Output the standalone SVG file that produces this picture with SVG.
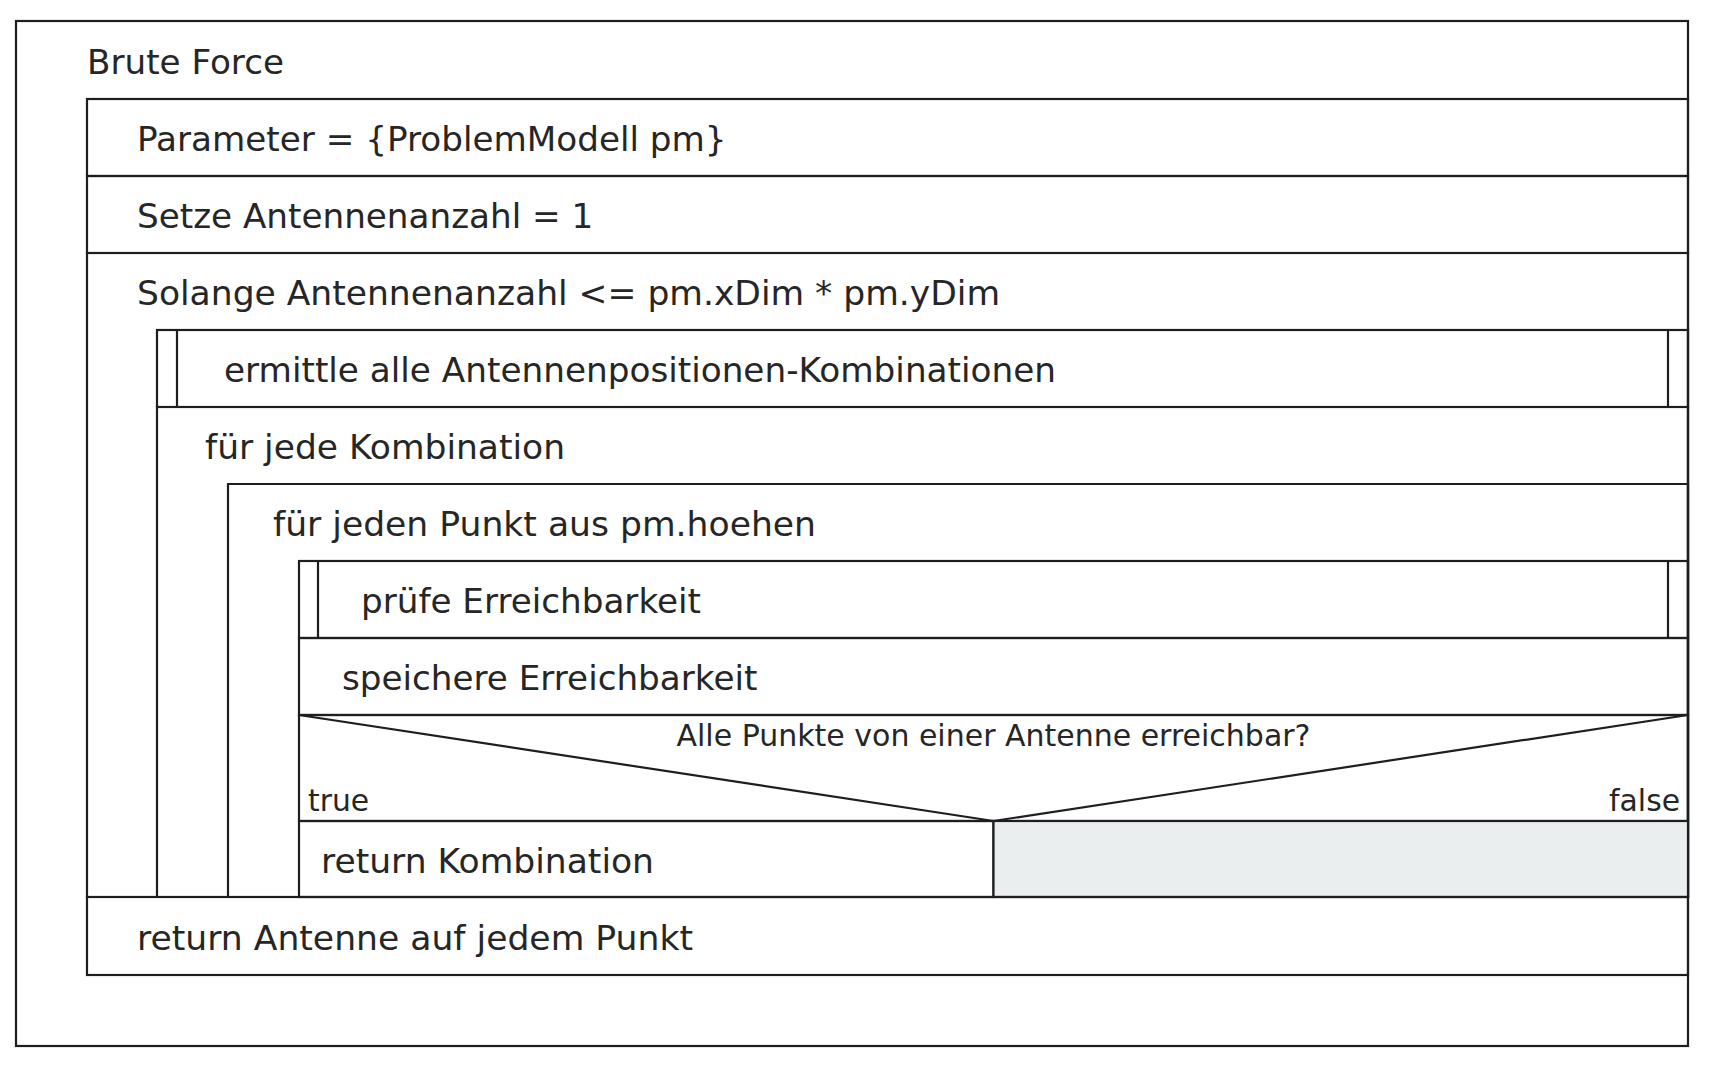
<svg xmlns="http://www.w3.org/2000/svg" width="1718" height="1067" viewBox="0 0 1718 1067">
<style>
.b{fill:none;stroke:#1e1e1e;stroke-width:2.2}
.g{fill:#ebeeef;stroke:#1e1e1e;stroke-width:2.2}
.t{font-family:"DejaVu Sans",Verdana,sans-serif;font-size:34.2px;fill:#262626}
.s{font-family:"DejaVu Sans",Verdana,sans-serif;font-size:29.8px;fill:#262626}
</style>
<rect width="1718" height="1067" fill="#ffffff"/>
<g id="outer">
<rect class="b" x="16" y="21" width="1672" height="1025"/>
<text class="t" x="87" y="74">Brute Force</text>
</g>
<g id="param">
<rect class="b" x="87" y="99" width="1601" height="77"/>
<text class="t" x="137" y="151">Parameter = {ProblemModell pm}</text>
</g>
<g id="setze">
<rect class="b" x="87" y="176" width="1601" height="77"/>
<text class="t" x="137" y="228">Setze Antennenanzahl = 1</text>
</g>
<g id="solange">
<path class="b" d="M87 253H1688V897H87Z"/>
<text class="t" x="137" y="305" textLength="863" lengthAdjust="spacingAndGlyphs">Solange Antennenanzahl &lt;= pm.xDim * pm.yDim</text>
</g>
<g id="ermittle">
<rect class="b" x="157" y="330" width="1531" height="77"/>
<line class="b" x1="177" y1="330" x2="177" y2="407"/>
<line class="b" x1="1668" y1="330" x2="1668" y2="407"/>
<text class="t" x="224" y="382" textLength="832" lengthAdjust="spacingAndGlyphs">ermittle alle Antennenpositionen-Kombinationen</text>
</g>
<g id="fuerKombination">
<path class="b" d="M157 407H1688V897H157Z"/>
<text class="t" x="205" y="459" textLength="360" lengthAdjust="spacingAndGlyphs">für jede Kombination</text>
</g>
<g id="fuerPunkt">
<path class="b" d="M228 484H1688V897H228Z"/>
<text class="t" x="273" y="536" textLength="543" lengthAdjust="spacingAndGlyphs">für jeden Punkt aus pm.hoehen</text>
</g>
<g id="pruefe">
<rect class="b" x="299" y="561" width="1389" height="77"/>
<line class="b" x1="318" y1="561" x2="318" y2="638"/>
<line class="b" x1="1668" y1="561" x2="1668" y2="638"/>
<text class="t" x="361" y="613">prüfe Erreichbarkeit</text>
</g>
<g id="speichere">
<rect class="b" x="299" y="638" width="1389" height="77"/>
<text class="t" x="342" y="690">speichere Erreichbarkeit</text>
</g>
<g id="decision">
<rect class="b" x="299" y="715" width="1389" height="106"/>
<path class="b" d="M299 715L993.5 821L1688 715"/>
<text class="s" x="676.5" y="746" textLength="634" lengthAdjust="spacingAndGlyphs">Alle Punkte von einer Antenne erreichbar?</text>
<text class="s" x="308" y="811">true</text>
<text class="s" x="1680" y="811" text-anchor="end">false</text>
</g>
<g id="trueBranch">
<rect class="b" x="299" y="821" width="694.5" height="76"/>
<text class="t" x="321" y="873" textLength="333" lengthAdjust="spacingAndGlyphs">return Kombination</text>
</g>
<g id="falseBranch">
<rect class="g" x="993.5" y="821" width="694.5" height="76"/>
</g>
<g id="returnAntenne">
<rect class="b" x="87" y="897" width="1601" height="78"/>
<text class="t" x="137" y="950" textLength="556" lengthAdjust="spacingAndGlyphs">return Antenne auf jedem Punkt</text>
</g>
<g id="connectors"></g>
</svg>
